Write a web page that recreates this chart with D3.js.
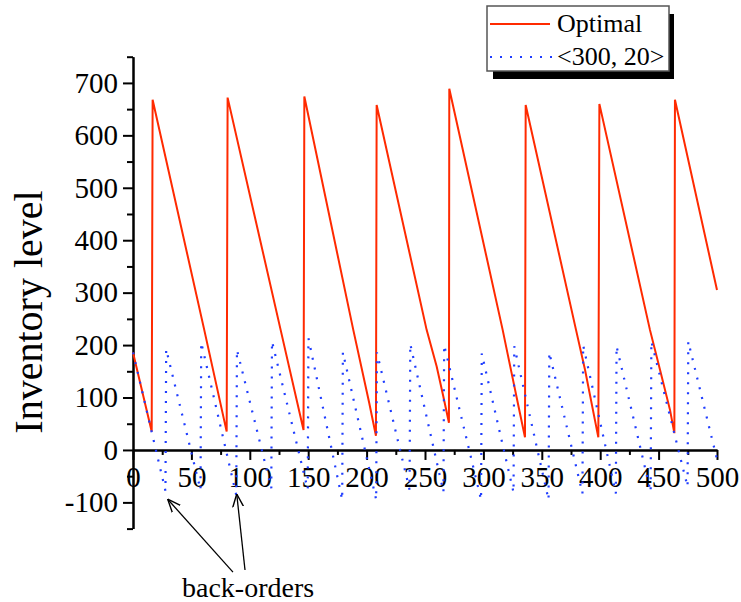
<!DOCTYPE html>
<html>
<head>
<meta charset="utf-8">
<script src="https://cdn.jsdelivr.net/npm/d3@7"></script>
<style>
  body { margin: 0; background: #fff; }
  svg text { font-family: "Liberation Serif", "Times New Roman", serif !important; }
</style>
</head>
<body>
<svg width="741" height="602"></svg>
<script>
// "Optimal" policy (time, inventory)
const optimalT = [0, 16, 16.8, 61, 80.2, 81, 126.4, 146, 146.7, 188.6, 202.3, 208, 208.6,
    251.4, 260, 265.7, 270.5, 270.8, 316.5, 324.2, 331.3, 335.6, 336.2, 379.3, 387, 398.4,
    399.3, 442.6, 451.2, 459.8, 463.5, 464, 500];
const optimalInv = [186, 35, 668, 229, 35, 672, 229, 38, 674, 229, 89, 27, 658,
    229, 159, 102, 52, 689, 229, 146, 70, 24, 658, 229, 153, 24,
    660, 229, 153, 76, 32, 668, 305];

// "<300, 20>" policy
const policyT = [0, 27.8, 28.4, 57.8, 58.4, 88.4, 89, 118.4, 119, 149.6, 150.2, 179.1, 179.7,
    208.2, 208.8, 236.8, 237.4, 265.8, 266.4, 298, 298.6, 325.8, 326.4, 355.8, 356.4,
    384.8, 385.4, 413.4, 414, 443.2, 443.8, 474.8, 475.4, 500];
const policyInv = [186, -78, 192, -76, 205, -86, 191, -73, 207, -75, 213, -95, 186,
    -95, 186, -76, 202, -80, 200, -95, 184, -81, 198, -95, 186,
    -83, 200, -83, 198, -80, 207, -70, 207, -18];

const xMajor = d3.range(0, 501, 50);
const xMinor = d3.range(25, 500, 50);
const yMajor = d3.range(-100, 701, 100);
const yMinor = d3.range(-150, 751, 100);

const seriesNames = ["Optimal", "<300, 20>"];
const annotation = "back-orders";
const arrowTips = [[29.7, -94], [88.8, -84]];
const arrowTails = [[85.6, -233], [95.9, -229]];

const serif = '"Liberation Serif", "Times New Roman", serif';
const svg = d3.select("svg");
const x = d3.scaleLinear().domain([0, 500]).range([133, 717]);
const y = d3.scaleLinear().domain([-150, 750]).range([528.6, 56.7]);

function styleAxis(g) {
    g.attr("font-size", 29).attr("font-family", null);
    g.selectAll("path, line").attr("stroke", "#000").attr("stroke-width", 2);
    g.selectAll("text").attr("fill", "#000").style("font-family", serif);
}

// y axis
svg.append("g")
    .attr("transform", `translate(${x(0)},0)`)
    .call(d3.axisLeft(y).tickValues(yMinor).tickSize(6).tickSizeOuter(0).tickFormat(""))
    .call(styleAxis);
svg.append("g")
    .attr("transform", `translate(${x(0)},0)`)
    .call(d3.axisLeft(y).tickValues(yMajor).tickSize(10).tickSizeOuter(0).tickPadding(5)
        .tickFormat(d => String(d)))
    .call(styleAxis);

// x axis on the zero line
svg.append("g")
    .attr("transform", `translate(0,${y(0)})`)
    .call(d3.axisBottom(x).tickValues(xMinor).tickSize(5).tickSizeOuter(0).tickFormat(""))
    .call(styleAxis);
svg.append("g")
    .attr("transform", `translate(0,${y(0)})`)
    .call(d3.axisBottom(x).tickValues(xMajor).tickSize(10).tickSizeOuter(0).tickPadding(6)
        .tickFormat(d => String(d)))
    .call(styleAxis);

svg.append("text")
    .attr("transform", `translate(42,312) rotate(-90)`)
    .attr("text-anchor", "middle")
    .attr("font-size", 40)
    .style("font-family", serif)
    .text("Inventory level");

const line = d3.line().x(d => x(d[0])).y(d => y(d[1]));

svg.append("path")
    .datum(d3.zip(optimalT, optimalInv))
    .attr("d", line)
    .attr("fill", "none")
    .attr("stroke", "#ff2a00")
    .attr("stroke-width", 2);

svg.append("path")
    .datum(d3.zip(policyT, policyInv))
    .attr("d", line)
    .attr("fill", "none")
    .attr("stroke", "#1f3dff")
    .attr("stroke-width", 2.2)
    .attr("stroke-dasharray", "2 8");

// legend
const legend = svg.append("g");
legend.append("rect").attr("x", 493).attr("y", 14).attr("width", 181).attr("height", 65).attr("fill", "#000");
legend.append("rect").attr("x", 487).attr("y", 6).attr("width", 182).attr("height", 65)
    .attr("fill", "#fff").attr("stroke", "#555").attr("stroke-width", 1.5);
legend.append("line").attr("x1", 490).attr("x2", 550).attr("y1", 24).attr("y2", 24)
    .attr("stroke", "#ff2a00").attr("stroke-width", 2);
legend.append("line").attr("x1", 490).attr("x2", 552).attr("y1", 57).attr("y2", 57)
    .attr("stroke", "#1f3dff").attr("stroke-width", 2.2).attr("stroke-dasharray", "2 8");
legend.selectAll("text.lab")
    .data(seriesNames)
    .enter().append("text")
    .attr("class", "lab")
    .attr("x", 557)
    .attr("y", (d, i) => 32 + i * 33)
    .attr("font-size", 26)
    .style("font-family", serif)
    .text(d => d);

// annotation
svg.append("defs").append("marker")
    .attr("id", "head")
    .attr("viewBox", "0 0 12 12")
    .attr("refX", 12).attr("refY", 6)
    .attr("markerWidth", 13).attr("markerHeight", 13)
    .attr("markerUnits", "userSpaceOnUse")
    .attr("orient", "auto")
    .append("path")
    .attr("d", "M0,1 L12,6 L0,11")
    .attr("fill", "none")
    .attr("stroke", "#000")
    .attr("stroke-width", 1.3);

arrowTips.forEach((tip, i) => {
    svg.append("line")
        .attr("x1", x(arrowTails[i][0])).attr("y1", y(arrowTails[i][1]))
        .attr("x2", x(tip[0])).attr("y2", y(tip[1]))
        .attr("stroke", "#000")
        .attr("stroke-width", 1.3)
        .attr("marker-end", "url(#head)");
});

svg.append("text")
    .attr("x", x(98.5))
    .attr("y", y(-280))
    .attr("text-anchor", "middle")
    .attr("font-size", 28)
    .style("font-family", serif)
    .text(annotation);
</script>
</body>
</html>
